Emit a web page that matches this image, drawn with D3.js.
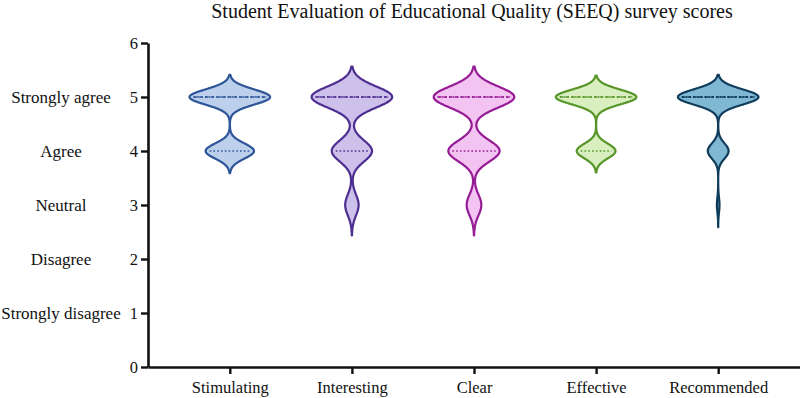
<!DOCTYPE html>
<html>
<head>
<meta charset="utf-8">
<script src="https://cdn.jsdelivr.net/npm/d3@7"></script>
<style>
  body { margin: 0; background: #fff; }
  text { font-family: "Liberation Serif", "Times New Roman", serif; fill: #111; }
</style>
</head>
<body>
<svg id="drawing_region"></svg>
<script>
// survey items and the Likert scale
const categories = ["Stimulating", "Interesting", "Clear", "Effective", "Recommended"];
const scoreLevels = [1, 2, 3, 4, 5];
const likertLabels = ["Strongly disagree", "Disagree", "Neutral", "Agree", "Strongly agree"];
const yTicks = [0, 1, 2, 3, 4, 5, 6];

// number of responses per score (1..5) for each item
const countsStimulating = [0, 0, 0, 15, 25];
const countsInteresting = [0, 0, 4, 12, 24];
const countsClear       = [0, 0, 4, 14, 22];
const countsEffective   = [0, 0, 0, 13, 27];
const countsRecommended = [0, 0, 1, 8, 31];
const responseCounts = [countsStimulating, countsInteresting, countsClear, countsEffective, countsRecommended];

const strokeColors = ["#2d5598", "#4f2e92", "#961c96", "#579528", "#0f3c5a"];
const fillColors   = ["#bccfeb", "#cdc0ea", "#f3c3f1", "#d9efc0", "#80b8d3"];

const config = {
    width: 800,
    height: 398,
    margin: {top: 43, right: 0, bottom: 31, left: 148}
};

const svg = d3.select('#drawing_region')
    .attr('width', config.width)
    .attr('height', config.height);

const inner_bottom = config.height - config.margin.bottom;

const xscale = d3.scalePoint()
    .domain(categories)
    .range([config.margin.left, config.width - config.margin.right])
    .padding(0.67);

const yscale = d3.scaleLinear()
    .domain([0, 6])
    .range([inner_bottom, config.margin.top]);

const halfWidth = xscale.step() * 0.33;

// title
svg.append('text')
    .attr('x', 472)
    .attr('y', 18)
    .attr('text-anchor', 'middle')
    .attr('font-size', 20)
    .text("Student Evaluation of Educational Quality (SEEQ) survey scores");

// violins (gaussian kernel density of the responses)
categories.forEach((cat, i) => {
    const counts = responseCounts[i];
    const values = [];
    scoreLevels.forEach((s, k) => { for (let j = 0; j < counts[k]; j++) values.push(s); });
    values.sort(d3.ascending);
    const n = values.length;
    const sd = d3.deviation(values);
    const bw = 0.6 * sd * Math.pow(n, -0.2);
    const lo = d3.min(values) - 2.9 * bw, hi = d3.max(values) + 2.9 * bw;

    const dens = y => d3.sum(scoreLevels, (s, k) => counts[k] * Math.exp(-((y - s) ** 2) / (2 * bw * bw)));
    const pts = d3.range(lo, hi + 1e-9, (hi - lo) / 300).map(y => ({y: y, d: dens(y)}));
    const dmax = d3.max(pts, p => p.d);
    const w = d3.scaleLinear().domain([0, dmax]).range([0, halfWidth]);
    const cx = xscale(cat);

    const area = d3.area()
        .y(p => yscale(p.y))
        .x0(p => cx - w(p.d))
        .x1(p => cx + w(p.d))
        .curve(d3.curveBasis);

    const g = svg.append('g');
    g.append('path')
        .datum(pts)
        .attr('d', area)
        .attr('fill', fillColors[i])
        .attr('stroke', strokeColors[i])
        .attr('stroke-width', 2.2)
        .attr('stroke-linejoin', 'round');

    // median (dashed) and quartiles (dotted)
    const lines = [
        {v: d3.quantile(values, 0.25), dash: '1.6,2.2'},
        {v: d3.quantile(values, 0.75), dash: '1.6,2.2'},
        {v: d3.quantile(values, 0.5), dash: '3.5,2.2'}
    ];
    g.selectAll('line.q')
        .data(lines)
        .enter()
        .append('line')
        .attr('x1', d => cx - w(dens(d.v)) + 4)
        .attr('x2', d => cx + w(dens(d.v)) - 4)
        .attr('y1', d => yscale(d.v))
        .attr('y2', d => yscale(d.v))
        .attr('stroke', strokeColors[i])
        .attr('stroke-width', 1.7)
        .attr('stroke-dasharray', d => d.dash);
});

// axes
const yaxis = d3.axisLeft(yscale)
    .tickValues(yTicks)
    .tickFormat(d3.format('d'))
    .tickSize(7)
    .tickSizeOuter(0)
    .tickPadding(3);

const xaxis = d3.axisBottom(xscale)
    .tickSize(7)
    .tickSizeOuter(0)
    .tickPadding(7);

const yaxis_group = svg.append('g')
    .attr('transform', `translate(${config.margin.left}, 0)`)
    .call(yaxis);

const xaxis_group = svg.append('g')
    .attr('transform', `translate(0, ${inner_bottom})`)
    .call(xaxis);

[yaxis_group, xaxis_group].forEach(ax => {
    ax.select('.domain').attr('stroke', '#111').attr('stroke-width', 2.6);
    ax.selectAll('.tick line').attr('stroke', '#111').attr('stroke-width', 2.4);
    ax.selectAll('.tick text')
        .attr('font-family', '"Liberation Serif", serif')
        .attr('font-size', 16.5)
        .attr('fill', '#111');
});

// likert labels
svg.append('g')
    .selectAll('text')
    .data(likertLabels)
    .enter()
    .append('text')
    .attr('x', 61)
    .attr('y', (d, i) => yscale(scoreLevels[i]))
    .attr('dy', '0.35em')
    .attr('text-anchor', 'middle')
    .attr('font-size', 17)
    .text(d => d);
</script>
</body>
</html>
